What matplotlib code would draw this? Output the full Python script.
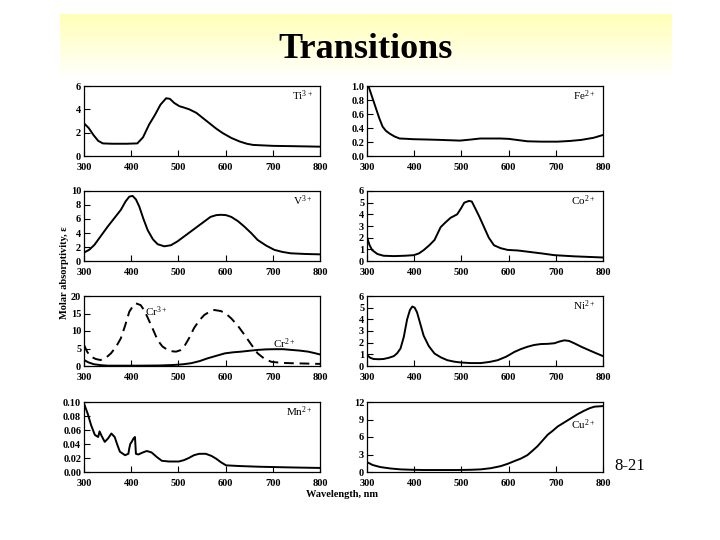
import matplotlib
matplotlib.use("Agg")
import matplotlib.pyplot as plt
import numpy as np

plt.rcParams['font.family'] = ['Liberation Serif', 'DejaVu Serif']
plt.rcParams['mathtext.default'] = 'regular'

# spectra (wavelength nm, molar absorptivity)
ti_nm = [300, 310, 320, 330, 340, 360, 390, 413, 425, 438, 450, 462, 474, 482, 491, 502, 512, 523, 538, 552, 566, 580, 594, 612, 630, 645, 658, 700, 745, 800]
ti_eps = [2.8, 2.4, 1.8, 1.3, 1.08, 1.05, 1.05, 1.08, 1.6, 2.7, 3.5, 4.4, 4.95, 4.9, 4.55, 4.27, 4.15, 4.0, 3.7, 3.25, 2.8, 2.35, 1.96, 1.55, 1.24, 1.05, 0.95, 0.87, 0.84, 0.8]

fe_nm = [303, 311, 319, 326, 333, 340, 348, 358, 369, 385, 398, 430, 455, 497, 520, 540, 560, 582, 600, 617, 640, 670, 704, 730, 754, 780, 800]
fe_eps = [1.0, 0.84, 0.68, 0.54, 0.42, 0.36, 0.32, 0.28, 0.25, 0.245, 0.24, 0.235, 0.23, 0.22, 0.235, 0.25, 0.25, 0.25, 0.245, 0.23, 0.21, 0.205, 0.205, 0.215, 0.23, 0.26, 0.3]

v_nm = [300, 311, 322, 336, 350, 364, 378, 388, 396, 403, 410, 417, 426, 435, 446, 456, 470, 484, 498, 512, 526, 540, 554, 568, 580, 590, 601, 612, 626, 640, 654, 668, 686, 703, 720, 738, 770, 800]
v_eps = [1.2, 1.6, 2.3, 3.6, 4.9, 6.1, 7.3, 8.5, 9.2, 9.3, 8.8, 7.8, 6.0, 4.4, 3.1, 2.4, 2.1, 2.25, 2.8, 3.5, 4.2, 4.9, 5.6, 6.3, 6.55, 6.6, 6.55, 6.3, 5.7, 4.9, 4.0, 3.0, 2.2, 1.6, 1.3, 1.1, 1.0, 0.95]

co_nm = [300, 305, 311, 322, 335, 357, 380, 399, 410, 420, 432, 443, 456, 466, 477, 491, 499, 506, 516, 522, 527, 538, 548, 558, 569, 583, 598, 620, 640, 670, 697, 739, 800]
co_eps = [2.06, 1.4, 0.93, 0.6, 0.45, 0.42, 0.45, 0.5, 0.65, 0.93, 1.35, 1.8, 2.9, 3.3, 3.7, 4.0, 4.5, 5.0, 5.15, 5.1, 4.7, 3.8, 2.9, 2.0, 1.35, 1.1, 0.95, 0.9, 0.8, 0.65, 0.5, 0.4, 0.3]

cr3_nm = [300, 307, 314, 325, 335, 346, 357, 368, 378, 387, 396, 403, 410, 420, 428, 435, 446, 456, 466, 477, 487, 495, 504, 512, 522, 533, 544, 555, 566, 576, 590, 601, 612, 626, 640, 654, 668, 683, 697, 718, 739, 770, 800]
cr3_eps = [6.0, 4.0, 2.7, 2.0, 1.7, 2.3, 3.6, 5.5, 7.9, 11.5, 15.5, 17.0, 17.9, 17.4, 15.8, 13.8, 10.5, 7.4, 5.6, 4.6, 4.2, 4.1, 4.5, 5.5, 7.8, 10.8, 13.0, 14.6, 15.5, 16.0, 15.7, 14.9, 13.6, 11.5, 8.9, 6.2, 3.6, 2.0, 1.2, 0.9, 0.8, 0.7, 0.6]

cr2_nm = [300, 310, 321, 335, 350, 385, 420, 460, 491, 510, 527, 545, 562, 580, 598, 615, 633, 650, 668, 686, 704, 722, 739, 757, 775, 788, 800]
cr2_eps = [1.7, 1.0, 0.5, 0.25, 0.1, 0.1, 0.1, 0.15, 0.3, 0.5, 0.8, 1.4, 2.2, 2.9, 3.6, 3.9, 4.1, 4.35, 4.6, 4.75, 4.8, 4.8, 4.6, 4.4, 4.1, 3.7, 3.3]

ni_nm = [300, 307, 314, 325, 335, 346, 357, 364, 371, 378, 385, 391, 396, 401, 406, 413, 420, 431, 443, 456, 470, 485, 499, 520, 541, 560, 577, 595, 612, 626, 640, 654, 668, 683, 697, 708, 718, 728, 739, 754, 768, 785, 800]
ni_eps = [0.93, 0.7, 0.6, 0.58, 0.6, 0.7, 0.85, 1.1, 1.5, 2.5, 4.0, 4.8, 5.1, 5.0, 4.6, 3.6, 2.6, 1.7, 1.07, 0.75, 0.5, 0.37, 0.3, 0.25, 0.25, 0.35, 0.5, 0.8, 1.2, 1.45, 1.65, 1.8, 1.88, 1.9, 1.95, 2.1, 2.2, 2.15, 1.95, 1.65, 1.4, 1.1, 0.85]

mn_nm = [300, 308, 315, 323, 330, 333, 337, 344, 351, 358, 365, 370, 376, 387, 394, 396, 398, 401, 405, 408, 409, 410, 415, 425, 433, 443, 455, 465, 480, 501, 512, 522, 533, 544, 558, 570, 580, 590, 601, 630, 672, 740, 800]
mn_eps = [0.098, 0.083, 0.067, 0.053, 0.05, 0.058, 0.052, 0.043, 0.048, 0.055, 0.05, 0.04, 0.029, 0.024, 0.026, 0.034, 0.04, 0.043, 0.048, 0.05, 0.038, 0.026, 0.025, 0.028, 0.03, 0.028, 0.021, 0.016, 0.015, 0.015, 0.017, 0.02, 0.024, 0.026, 0.026, 0.023, 0.019, 0.014, 0.0095, 0.0085, 0.0075, 0.0065, 0.0058]

cu_nm = [300, 312, 328, 350, 371, 395, 420, 460, 491, 520, 541, 562, 583, 598, 612, 626, 640, 650, 661, 672, 683, 694, 704, 718, 732, 746, 760, 772, 782, 800]
cu_eps = [1.7, 1.2, 0.85, 0.6, 0.45, 0.38, 0.34, 0.34, 0.34, 0.38, 0.45, 0.65, 1.0, 1.4, 1.86, 2.3, 2.9, 3.6, 4.4, 5.4, 6.4, 7.1, 7.8, 8.5, 9.2, 9.9, 10.5, 10.95, 11.2, 11.3]

x_ticks = [300, 400, 500, 600, 700, 800]

# left, bottom in figure pixels
col_left = [84, 367]
row_bottom = [156, 261, 366, 472]
ax_w, ax_h = 236, 70

fig = plt.figure(figsize=(7.2, 5.4), dpi=100)

# yellow title band
bg = fig.add_axes([60 / 720, 1 - 80 / 540, 612 / 720, 66 / 540], zorder=-5)
grad = np.linspace(0, 1, 100)[:, None]
band = np.ones((100, 2, 3))
band[:, :, 2] = 0.72 + 0.28 * grad
bg.imshow(band, aspect='auto', extent=[0, 1, 0, 1], origin='upper')
bg.axis('off')

fig.text(0.508, 0.909, "Transitions", ha='center', va='center',
         fontsize=26, fontweight='bold')


def make_ax(col, row):
    l = col_left[col] / 720
    b = 1 - row_bottom[row] / 540
    ax = fig.add_axes([l, b, ax_w / 720, ax_h / 540])
    ax.set_xlim(300, 800)
    ax.set_xticks(x_ticks)
    ax.tick_params(direction='in', length=4, width=0.8, labelsize=7.5, pad=2)
    ax.tick_params(axis='x', pad=5)
    for s in ax.spines.values():
        s.set_linewidth(0.9)
    return ax


def panel(col, row, xs, ys, ymax, yticks, fmt, label, lab_y=0.86):
    ax = make_ax(col, row)
    ax.plot(xs, ys, color='black', lw=1.4)
    ax.set_ylim(0, ymax)
    ax.set_yticks(yticks)
    ax.set_yticklabels([fmt.format(t) for t in yticks], fontweight='bold')
    ax.set_xticklabels([str(t) for t in x_ticks], fontweight='bold')
    if label:
        ax.text(0.97, lab_y, label, transform=ax.transAxes, ha='right', va='center', fontsize=8)
    return ax


panel(0, 0, ti_nm, ti_eps, 6, [0, 2, 4, 6], "{}", "Ti$^{3+}$")
panel(1, 0, fe_nm, fe_eps, 1.0, [0, 0.2, 0.4, 0.6, 0.8, 1.0], "{:.1f}", "Fe$^{2+}$")
panel(0, 1, v_nm, v_eps, 10, [0, 2, 4, 6, 8, 10], "{}", "V$^{3+}$")
panel(1, 1, co_nm, co_eps, 6, [0, 1, 2, 3, 4, 5, 6], "{}", "Co$^{2+}$")
ax_cr = panel(0, 2, cr2_nm, cr2_eps, 20, [0, 5, 10, 15, 20], "{}", None)
ax_cr.plot(cr3_nm, cr3_eps, color='black', lw=1.4, ls=(0, (5, 3)))
ax_cr.text(430, 15.5, "Cr$^{3+}$", fontsize=8, va='center')
ax_cr.text(700, 6.3, "Cr$^{2+}$", fontsize=8, va='center')
panel(1, 2, ni_nm, ni_eps, 6, [0, 1, 2, 3, 4, 5, 6], "{}", "Ni$^{2+}$")
panel(0, 3, mn_nm, mn_eps, 0.10, [0, 0.02, 0.04, 0.06, 0.08, 0.10], "{:.2f}", "Mn$^{2+}$")
panel(1, 3, cu_nm, cu_eps, 12, [0, 3, 6, 9, 12], "{}", "Cu$^{2+}$", lab_y=0.68)

fig.text(0.090, 0.495, "Molar absorptivity, \u03b5", rotation=90, ha='center', va='center',
         fontsize=7.5, fontweight='bold')
fig.text(0.475, 0.084, "Wavelength, nm", ha='center', va='center', fontsize=7.5, fontweight='bold')
fig.text(0.875, 0.137, "8-21", ha='center', va='center', fontsize=12)

fig.savefig("out.png", dpi=100)
